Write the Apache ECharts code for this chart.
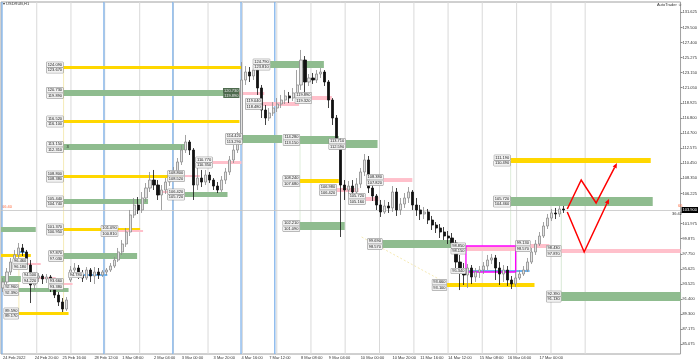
<!DOCTYPE html>
<html><head><meta charset="utf-8">
<script src="https://cdn.jsdelivr.net/npm/echarts@6/dist/echarts.min.js"></script>
<style>html,body{margin:0;padding:0;background:#fff}#c{width:700px;height:362px}</style>
</head><body><div id="c"></div>
<script>
// ---------- DATA ----------
const symbolTitle = '▾ USDRUB,H1';
const expertTitle = 'AutoTrader ☺';
const opens = [92.96,93.80,95.20,96.60,97.59,98.57,98.01,96.18,93.38,94.36,94.64,94.22,94.50,93.10,91.97,90.99,90.01,
94.08,95.48,95.76,94.78,94.36,95.48,94.64,95.20,94.78,95.20,95.48,96.04,96.88,98.01,
99.13,100.81,103.20,104.60,103.90,105.58,106.98,108.10,107.40,106.00,106.70,107.82,108.66,109.23,110.63,112.31,113.43,112.31,107.40,108.38,107.82,108.80,108.10,107.26,106.70,108.10,109.23,110.91,112.31,
113.71,122.13,123.25,122.69,123.53,121.01,117.92,116.80,117.50,118.20,118.76,119.32,119.89,119.61,120.31,121.43,124.93,121.85,122.41,122.13,122.97,123.25,121.85,119.32,
116.80,113.71,107.40,106.70,107.26,106.42,107.54,109.23,110.91,106.98,105.86,104.60,103.62,104.46,104.18,106.42,103.90,104.74,105.58,106.42,104.60,103.90,103.34,103.62,102.49,101.79,101.37,100.81,100.25,99.97,
99.27,96.60,95.48,94.78,95.76,94.50,95.20,95.48,96.04,96.88,97.17,95.76,94.92,95.48,94.08,93.52,94.36,94.92,95.48,96.60,98.01,99.13,100.25,101.65,102.77,103.48,103.34,104.04];
const closes = [93.80,95.20,96.60,97.59,98.57,98.01,96.18,93.38,94.36,94.64,94.22,94.50,93.10,91.97,90.99,90.01,91.27,
95.48,95.76,94.78,94.36,95.48,94.64,95.20,94.78,95.20,95.48,96.04,96.88,98.01,99.13,
100.81,103.20,104.60,103.90,105.58,106.98,108.10,107.40,106.00,106.70,107.82,108.66,109.23,110.63,112.31,113.43,112.31,107.40,108.38,107.82,108.80,108.10,107.26,106.70,108.10,109.23,110.91,112.31,113.71,
122.13,123.25,122.69,123.53,121.01,117.92,116.80,117.50,118.20,118.76,119.32,119.89,119.61,120.31,121.43,124.93,121.85,122.41,122.13,122.97,123.25,121.85,119.32,116.80,
113.71,107.40,106.70,107.26,106.42,107.54,109.23,110.91,106.98,105.86,104.60,103.62,104.46,104.18,106.42,103.90,104.74,105.58,106.42,104.60,103.90,103.34,103.62,102.49,101.79,101.37,100.81,100.25,99.97,99.27,
96.60,95.48,94.78,95.76,94.50,95.20,95.48,96.04,96.88,97.17,95.76,94.92,95.48,94.08,93.52,94.36,94.92,95.48,96.60,98.01,99.13,100.25,101.65,102.77,103.48,103.34,104.04,103.90];
const lows = [92.39,93.38,94.78,96.18,97.17,97.45,95.76,90.85,92.67,93.80,93.52,93.66,92.39,91.55,90.43,89.59,89.73,
93.80,94.92,94.22,93.80,94.08,93.80,93.52,94.22,94.50,94.78,95.20,95.76,96.60,97.59,
98.71,100.25,102.78,103.34,103.48,105.02,106.42,106.70,105.30,103.90,106.14,107.26,108.38,108.80,110.21,111.89,111.61,105.30,106.70,107.12,107.40,107.68,106.70,106.28,106.42,107.54,108.80,110.49,111.89,
113.43,121.43,121.85,122.13,120.03,116.80,115.82,116.38,117.08,117.64,118.20,118.76,118.90,119.18,119.89,120.73,119.32,121.29,121.57,121.71,122.41,121.29,118.20,115.82,
113.01,100.11,105.30,105.86,105.58,105.72,106.98,108.66,106.28,105.16,103.90,102.92,103.34,103.48,103.62,103.06,103.20,104.18,104.88,103.90,103.06,102.49,102.63,101.93,101.09,100.67,99.97,99.69,99.13,98.01,
95.48,92.67,93.38,92.96,93.52,93.80,94.36,94.92,95.48,96.32,94.08,93.38,93.80,93.24,92.81,93.10,94.08,94.64,95.20,96.32,97.59,98.85,99.97,101.23,102.35,102.63,102.92,103.48];
const highs = [94.36,95.76,97.17,98.29,99.27,99.13,98.29,96.88,95.20,95.06,94.92,94.92,94.78,93.52,92.39,91.55,91.69,
96.04,96.46,96.18,95.48,95.90,95.76,95.90,95.76,95.48,95.76,96.46,97.31,98.57,99.69,
101.37,103.90,105.58,105.72,106.42,107.68,109.23,109.51,108.10,107.40,108.38,109.09,109.93,111.19,113.01,114.42,113.71,112.59,109.79,109.51,109.51,109.23,108.38,107.82,108.66,109.79,111.47,113.01,114.84,
124.65,124.09,123.95,124.09,123.81,121.43,118.62,118.20,119.04,119.60,120.03,120.73,120.45,121.01,123.53,126.34,125.49,122.97,123.11,123.53,123.81,123.53,122.13,119.60,
117.22,113.99,108.10,107.96,108.10,108.38,109.79,111.75,111.47,107.82,106.14,105.30,105.30,105.02,107.26,106.98,105.58,106.28,107.12,106.70,105.58,104.60,104.32,104.04,103.06,102.21,101.93,101.51,100.95,100.67,
99.69,97.59,96.46,96.32,96.18,95.76,96.04,96.60,97.59,97.73,97.59,96.60,96.18,96.04,94.64,95.20,95.48,96.04,97.17,98.57,99.69,100.81,102.21,103.34,104.04,104.18,104.46,104.46];

// price-axis tick labels
const priceTicks = [131.625,129.500,127.400,125.275,123.150,121.050,118.925,116.800,114.700,112.575,110.450,108.350,106.225,101.975,99.875,97.750,95.625,93.525,91.400,89.300,87.175,85.075];
// time labels and the bar they sit on
const timeLabels = ['24 Feb 2022','24 Feb 20:00','25 Feb 16:00','28 Feb 12:00','1 Mar 08:00','2 Mar 04:00','3 Mar 00:00','3 Mar 20:00','4 Mar 16:00','7 Mar 12:00','8 Mar 08:00','9 Mar 04:00','10 Mar 00:00','10 Mar 20:00','11 Mar 16:00','14 Mar 12:00','15 Mar 08:00','16 Mar 04:00','17 Mar 00:00'];
const timeLabelBars = [0,8,15,23,30,38,45,53,60,67,75,82,90,98,105,112,120,127,135];
// session separators (bar edges)
const separatorEdges = [9,17.6,26.1,34.9,43.4,52.1,60.75,69.4,78,86.6,95.25,103.9,112.5,121.1,129.75,138.4,147];
const weekEdges = [0.25,25.9,43.25,60.4,68.9];
// zones: [startEdge, endEdge, topPrice, bottomPrice, labelled]
const goldZones = [[15.75,60.5,124.09,123.67,1],[15.75,60,116.52,116.10,1],[15.75,45.75,108.80,108.38,1],[15.75,35,101.37,100.95,1],[0,7.5,97.73,97.31,0],[4.5,17,89.59,89.17,1],[75.25,85,108.24,107.68,1],[112.25,134.25,93.66,93.10,1],[128.25,163.5,111.19,110.49,1]];
const greenZones = [[15.75,60,120.73,119.89,1],[15.75,46.75,113.15,112.31,1],[15.75,37,105.44,104.74,1],[46.25,57,106.42,105.72,1],[0,8.75,101.51,100.81,0],[0,5,94.64,93.80,0],[4.5,17,92.96,92.39,1],[15.75,34.25,97.87,97.03,1],[67.75,81.25,124.79,123.81,1],[60.75,70.75,114.42,113.29,1],[75.25,85,114.28,113.15,1],[86.75,94.75,113.71,112.59,1],[75.25,86.5,102.21,101.09,1],[96,113.25,99.69,98.57,1],[128.25,164,105.72,104.46,1],[141,171,92.39,91.13,1]];
const pinkZones = [[57.5,66.25,120.45,120.03,0],[65.75,75,119.04,118.48,1],[78.25,83.25,119.89,119.32,1],[40,43.25,106.56,106.28,0],[46.25,50,108.80,108.52,1],[53.25,60.5,110.77,110.35,1],[29.5,35.75,101.09,100.81,1],[6.75,10,96.46,96.18,1],[9.25,13.75,94.50,94.22,1],[15.75,18,93.66,93.38,1],[84.5,90,106.98,106.42,1],[96.25,103.5,108.38,107.82,1],[91.75,95,105.72,105.16,1],[117,129.5,98.85,98.15,1],[133.25,138,99.13,98.57,1],[141,171,98.43,97.87,1]];
const blueLevels = [[4.25,6,98.01,0],[20.75,26.75,94.78,1],[117,133,95.34,1]];
const rangeBox = [117,129.5,98.85,95.20];
// faint connectors at zone anchors: [edge, fromPrice, toPrice, colour]
const connectors = [[15.75,124.09,89.17,'#f4e6a6'],[4.5,97.73,89.17,'#f4e6a6'],[128.25,110.49,95.0,'#d7e8d2'],[141,103.6,91.13,'#cfe3cc'],[75.25,114.28,101.09,'#d7e8d2']];
const projUp = [[142.5,104.04],[146,108.10],[149.75,104.88],[155,110.49]];
const projDown = [[142.5,103.62],[146.75,98.01],[153,105.44]];
const guideLine = [[90.75,100.11],[112,93.66]];

// ---------- CHART ----------
const slots = 171;
const yMin = 83.70, yMax = 133.07;
const cats = Array.from({length: slots}, (_, i) => String(i));
const candleData = opens.map((o, i) => [o, closes[i], lows[i], highs[i]]);
const lastPrice = closes[closes.length - 1];
const labelAt = {}; timeLabelBars.forEach((b, k) => { labelAt[b] = timeLabels[k]; });
const FONT = 'Liberation Sans';

function edgeX(api, e) { const band = api.size([1, 0])[0]; return api.coord([0, yMin])[0] - band / 2 + e * band; }
function py(api, v) { return api.coord([0, v])[1]; }

const zoneList = [].concat(
  greenZones.map(z => ({z, fill: '#8fbc8f'})),
  goldZones.map(z => ({z, fill: '#ffd700'})),
  pinkZones.map(z => ({z, fill: '#ffc0cb'})));

const labelStyle = (text, x, y, va) => ({type: 'text', style: {text, x, y, align: 'right', verticalAlign: va, fontSize: 4, fontFamily: FONT, fill: '#222', backgroundColor: '#f2f2f2', borderColor: '#8a8a8a', borderWidth: 0.5, padding: [0.5, 1]}});

const chart = echarts.init(document.getElementById('c'), null, {renderer: 'canvas'});
chart.setOption({
  animation: false,
  backgroundColor: '#ffffff',
  grid: {left: 0, right: 16, top: 2, bottom: 8, show: true, borderColor: '#a0a0a0', borderWidth: 1, backgroundColor: '#fff'},
  xAxis: {type: 'category', data: cats, boundaryGap: true,
    axisLine: {show: false}, axisTick: {show: false}, splitLine: {show: false},
    axisLabel: {interval: (i) => labelAt[i] !== undefined, formatter: (v, i) => labelAt[i] || '', align: 'left', fontSize: 4, fontFamily: FONT, color: '#333', margin: 2}},
  yAxis: {type: 'value', position: 'right', min: yMin, max: yMax, scale: true,
    axisLine: {show: false}, splitLine: {show: false},
    axisTick: {show: true, length: 2, customValues: priceTicks, lineStyle: {color: '#888'}},
    axisLabel: {customValues: priceTicks, formatter: v => v.toFixed(3), fontSize: 4, fontFamily: FONT, color: '#333', margin: 2}},
  graphic: [
    {type: 'text', left: 3, top: 2, style: {text: symbolTitle, fontSize: 4, fontFamily: FONT, fill: '#333'}},
    {type: 'text', right: 18, top: 3, style: {text: expertTitle, fontSize: 4, fontFamily: FONT, fill: '#333'}},
    {type: 'text', left: 2, top: 205, style: {text: '66:40', fontSize: 4, fontFamily: FONT, fill: '#ff6a3d'}},
    {type: 'text', left: 678, top: 204, style: {text: '66', fontSize: 4, fontFamily: FONT, fill: '#ff6a3d'}},
    {type: 'text', left: 672, top: 212, style: {text: '36:42', fontSize: 4, fontFamily: FONT, fill: '#333'}}
  ],
  series: [
    {type: 'custom', z: 1, silent: true, data: separatorEdges.map((e, i) => [i]).concat(weekEdges.map((e, i) => [separatorEdges.length + i])),
      renderItem: (p, api) => {
        const k = p.dataIndex; const cs = p.coordSys;
        const isWeek = k >= separatorEdges.length;
        const e = isWeek ? weekEdges[k - separatorEdges.length] : separatorEdges[k];
        const x = edgeX(api, e);
        return {type: 'line', shape: {x1: x, y1: cs.y, x2: x, y2: cs.y + cs.height},
          style: {stroke: isWeek ? '#7fb2ea' : '#d9d9d9', lineWidth: isWeek ? 1.3 : 1}};
      }},
    {type: 'custom', z: 1, silent: true, data: connectors.map((_, i) => [i]),
      renderItem: (p, api) => {
        const c = connectors[p.dataIndex]; const x = edgeX(api, c[0]);
        return {type: 'line', shape: {x1: x, y1: py(api, c[1]), x2: x, y2: py(api, c[2])}, style: {stroke: c[3], lineWidth: 0.8}};
      }},
    {type: 'custom', z: 2, silent: true, data: zoneList.map((_, i) => [i]),
      renderItem: (p, api) => {
        const o = zoneList[p.dataIndex], z = o.z;
        const xa = edgeX(api, z[0]), xb = edgeX(api, z[1]);
        const ya = py(api, z[2]), yb = py(api, z[3]);
        return {type: 'rect', shape: {x: xa, y: ya, width: xb - xa, height: yb - ya}, style: {fill: o.fill}};
      }},
    {type: 'custom', z: 3, silent: true, data: blueLevels.map((_, i) => [i]).concat([[blueLevels.length]]),
      renderItem: (p, api) => {
        if (p.dataIndex === blueLevels.length) {
          const xa = edgeX(api, rangeBox[0]), xb = edgeX(api, rangeBox[1]);
          const ya = py(api, rangeBox[2]), yb = py(api, rangeBox[3]);
          return {type: 'rect', shape: {x: xa, y: ya, width: xb - xa, height: yb - ya}, style: {fill: null, stroke: '#ff00ff', lineWidth: 1.3}};
        }
        const b = blueLevels[p.dataIndex];
        const y = py(api, b[2]);
        return {type: 'line', shape: {x1: edgeX(api, b[0]), y1: y, x2: edgeX(api, b[1]), y2: y}, style: {stroke: '#6eb4f0', lineWidth: 2}};
      }},
    {type: 'custom', z: 3, silent: true, data: [[0]],
      renderItem: (p, api) => {
        const a = guideLine[0], b = guideLine[1];
        return {type: 'line', shape: {x1: edgeX(api, a[0]), y1: py(api, a[1]), x2: edgeX(api, b[0]), y2: py(api, b[1])}, style: {stroke: '#f3e3a0', lineWidth: 0.8, lineDash: [2, 2]}};
      }},
    {type: 'candlestick', z: 5, barWidth: 2.6, data: candleData,
      itemStyle: {color: '#e4e4e4', color0: '#111111', borderColor: '#8c8c8c', borderColor0: '#111111', borderWidth: 0.8},
      markLine: {silent: true, symbol: 'none', data: [{yAxis: lastPrice}],
        lineStyle: {color: '#c4c4c4', width: 0.8, type: 'solid'},
        label: {position: 'end', distance: 1, formatter: () => lastPrice.toFixed(3), backgroundColor: '#000', color: '#fff', fontSize: 4, fontFamily: FONT, padding: [1, 1]}}},
    {type: 'custom', z: 8, silent: true, data: [[0], [1]],
      renderItem: (p, api) => {
        const path = p.dataIndex === 0 ? projUp : projDown;
        const pts = path.map(q => [edgeX(api, q[0]), py(api, q[1])]);
        const n = pts.length, e = pts[n - 1], s = pts[n - 2];
        const dx = e[0] - s[0], dy = e[1] - s[1], L = Math.hypot(dx, dy), ux = dx / L, uy = dy / L;
        const h = 5, w = 2.2;
        const base = [e[0] - ux * h, e[1] - uy * h];
        return {type: 'group', children: [
          {type: 'polyline', shape: {points: pts.slice(0, n - 1).concat([base])}, style: {stroke: '#ff0000', lineWidth: 1.5, fill: null}},
          {type: 'polygon', shape: {points: [e, [base[0] - uy * w, base[1] + ux * w], [base[0] + uy * w, base[1] - ux * w]]}, style: {fill: '#ff0000'}}
        ]};
      }},
    {type: 'custom', z: 10, silent: true, data: zoneList.map((_, i) => [i]),
      renderItem: (p, api) => {
        const z = zoneList[p.dataIndex].z;
        if (!z[4]) return null;
        const x = edgeX(api, z[0]) - 0.5;
        const yc = (py(api, z[2]) + py(api, z[3])) / 2;
        return {type: 'group', children: [
          labelStyle(z[2].toFixed(3), x, yc - 0.3, 'bottom'),
          labelStyle(z[3].toFixed(3), x, yc + 0.3, 'top')]};
      }},
    {type: 'custom', z: 10, silent: true, data: blueLevels.map((_, i) => [i]),
      renderItem: (p, api) => {
        const b = blueLevels[p.dataIndex];
        if (!b[3]) return null;
        return labelStyle(b[2].toFixed(3), edgeX(api, b[0]) - 0.5, py(api, b[2]), 'middle');
      }},
    {type: 'custom', z: 10, silent: true, data: [[0]],
      renderItem: (p, api) => {
        const z = greenZones[0];
        const x = edgeX(api, z[1]);
        const yc = (py(api, z[2]) + py(api, z[3])) / 2;
        const st = (t, va) => ({type: 'text', style: {text: t, x, y: yc, align: 'right', verticalAlign: va, fontSize: 4, fontFamily: FONT, fill: '#e8e8e8', backgroundColor: '#4e6b4e', padding: [0.5, 1]}});
        return {type: 'group', children: [st(z[2].toFixed(3), 'bottom'), st(z[3].toFixed(3), 'top')]};
      }},
    {type: 'custom', z: 10, silent: true, data: [[0]],
      renderItem: (p, api) => {
        const z = greenZones[1];
        return {type: 'text', style: {text: '3', x: edgeX(api, z[0]) + 3, y: (py(api, z[2]) + py(api, z[3])) / 2, verticalAlign: 'middle', fontSize: 4, fontFamily: FONT, fill: '#222'}};
      }}
  ]
});
</script></body></html>
